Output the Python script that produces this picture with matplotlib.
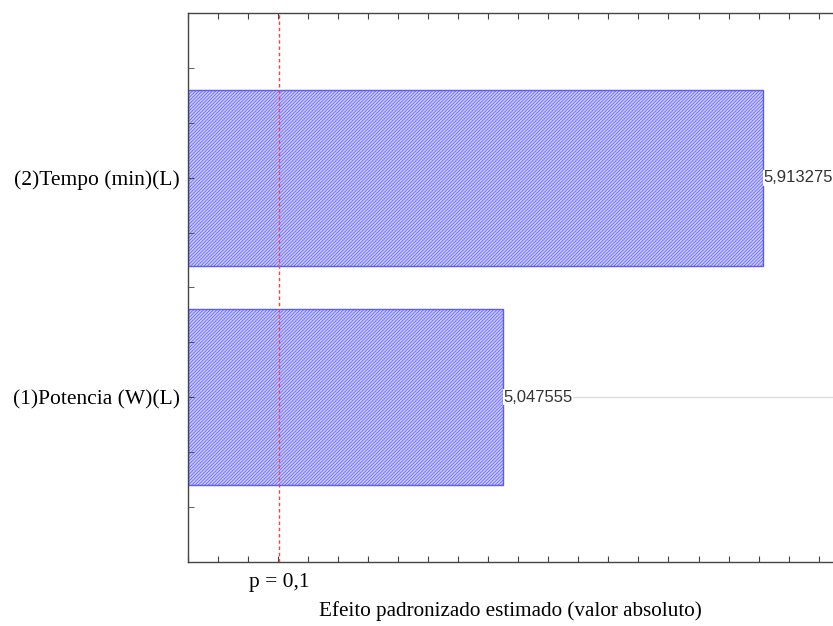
import matplotlib
matplotlib.use("Agg")
import matplotlib.pyplot as plt
from matplotlib.ticker import MultipleLocator, FixedLocator, NullFormatter

categories = ["(1)Potencia (W)(L)", "(2)Tempo (min)(L)"]
effects = [5.047555, 5.913275]
value_labels = ["5,047555", "5,913275"]
p_value_line = 4.3027
p_label = "p = 0,1"
xlabel = "Efeito padronizado estimado (valor absoluto)"

plt.rcParams['hatch.linewidth'] = 0.5
plt.rcParams['hatch.color'] = '#8a8aff'

fig = plt.figure(figsize=(8.33, 6.26), dpi=100)
W, H = 833, 626
left, right, top, bottom = 188, 833, 13, 562
ax = fig.add_axes([left / W, 1 - bottom / H, (right - left) / W, (bottom - top) / H])

x0 = 4.0
ypos = list(range(len(categories)))
for y, v in zip(ypos, effects):
    ax.plot([v, 7], [y, y], color='#dcdcdc', lw=1.0, zorder=0.5)

ax.barh(ypos, [e - x0 for e in effects], left=x0, height=0.8,
        color='#c8c8ff', edgecolor='#5a5aff', hatch='//////////', lw=1.0, zorder=1)

for y, v, lab in zip(ypos, effects, value_labels):
    ax.text(v + 0.003, y, lab, va='center', ha='left', fontsize=12,
            family='Liberation Sans', color='#333333',
            bbox=dict(facecolor='white', edgecolor='none', pad=0.5), zorder=3)

ax.axvline(p_value_line, color='#ff4040', ls=(0, (2.5, 2)), lw=1.0, zorder=4)

ax.set_xlim(x0, x0 + (right - left) / 300.3)
ax.set_ylim(-0.75, 1.75)

ax.xaxis.set_major_locator(MultipleLocator(0.1))
ax.xaxis.set_major_formatter(NullFormatter())
ax.tick_params(axis='x', which='both', direction='in', top=True, bottom=True, length=4, color='#444444')

ax.yaxis.set_major_locator(FixedLocator(ypos))
ax.set_yticklabels(categories, family='Liberation Serif', fontsize=15.5)
ax.yaxis.set_minor_locator(MultipleLocator(0.25))
ax.tick_params(axis='y', which='both', direction='in', length=4, color='#444444', pad=6)
ax.set_axisbelow(False)

for s in ['left', 'bottom', 'top']:
    ax.spines[s].set_color('#444444')
    ax.spines[s].set_linewidth(1.0)
ax.spines['right'].set_visible(False)

ax.text(p_value_line, -0.80, p_label, transform=ax.transData, ha='center', va='top',
        family='Liberation Serif', fontsize=15.5)
ax.text(0.5 * (left + right) / W, 1 - 611 / H, xlabel, transform=fig.transFigure,
        ha='center', va='center', family='Liberation Serif', fontsize=15.2)

fig.savefig("out.png", dpi=100)
